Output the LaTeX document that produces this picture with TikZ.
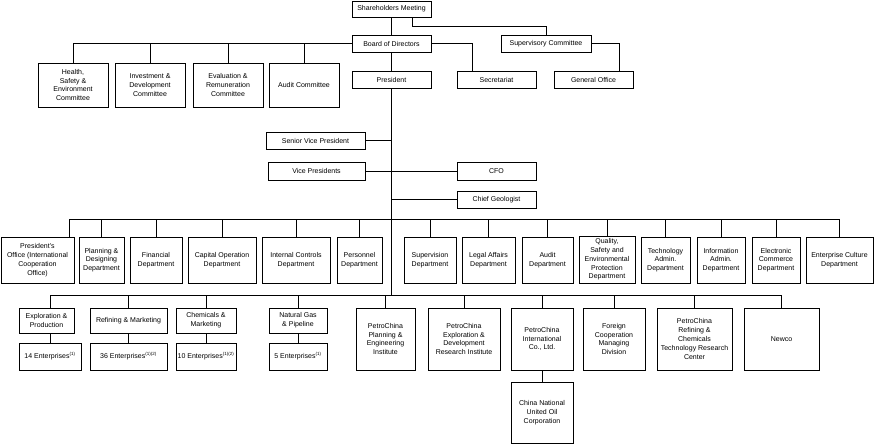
\documentclass[tikz,border=0pt]{standalone}
\usepackage{fontspec}
\setmainfont{Liberation Sans}
\begin{document}
\begin{tikzpicture}[x=1pt,y=-1pt,
  box/.style={draw, line width=0.9pt, inner sep=0pt, align=center,
    font=\fontsize{7}{8.8}\selectfont},
  ln/.style={line width=0.9pt}]
\useasboundingbox (0,0) rectangle (875,445);
\newcommand\bx[6]{\node[box, minimum width={#4-#2}, minimum height={#5-#3}] (#1) at ({(#2+#4)/2},{(#3+#5)/2}) {#6};}
\newcommand\sups[1]{\textsuperscript{\fontsize{4.5}{5}\selectfont #1}}
% top
\bx{sh}{352}{1}{431}{17}{Shareholders Meeting}
\bx{bod}{352}{35}{431}{52}{Board of Directors}
\bx{sup}{501}{35}{591}{52}{Supervisory Committee}
\bx{pres}{352}{71}{431}{88}{President}
\bx{sec}{457}{71}{536}{88}{Secretariat}
\bx{go}{554}{71}{633}{88}{General Office}
\bx{c1}{38}{63}{108}{107}{Health,\\Safety \&\\Environment\\Committee}
\bx{c2}{115}{63}{185}{107}{Investment \&\\Development\\Committee}
\bx{c3}{193}{63}{263}{107}{Evaluation \&\\Remuneration\\Committee}
\bx{c4}{269}{63}{339}{107}{Audit Committee}
% executives
\bx{svp}{266}{132}{365}{149}{Senior Vice President}
\bx{vp}{268}{162}{365}{180}{Vice Presidents}
\bx{cfo}{457}{162}{536}{180}{CFO}
\bx{cg}{457}{191}{536}{208}{Chief Geologist}
% departments
\bx{d1}{1}{237}{74}{283}{President's\\Office (International\\Cooperation\\Office)}
\bx{d2}{79}{237}{124}{283}{Planning \&\\Designing\\Department}
\bx{d3}{130}{237}{182}{283}{Financial\\Department}
\bx{d4}{188}{237}{256}{283}{Capital Operation\\Department}
\bx{d5}{262}{237}{330}{283}{Internal Controls\\Department}
\bx{d6}{337}{237}{382}{283}{Personnel\\Department}
\bx{d7}{404}{237}{456}{283}{Supervision\\Department}
\bx{d8}{462}{237}{515}{283}{Legal Affairs\\Department}
\bx{d9}{522}{237}{573}{283}{Audit\\Department}
\bx{d10}{579}{236}{635}{283}{Quality,\\Safety and\\Environmental\\Protection\\Department}
\bx{d11}{641}{237}{690}{283}{Technology\\Admin.\\Department}
\bx{d12}{697}{237}{745}{283}{Information\\Admin.\\Department}
\bx{d13}{752}{237}{800}{283}{Electronic\\Commerce\\Department}
\bx{d14}{806}{237}{873}{283}{Enterprise Culture\\Department}
% bottom
\bx{b1}{19}{308}{74}{333}{Exploration \&\\Production}
\bx{e1}{19}{343}{81}{370}{14 Enterprises\sups{(1)}}
\bx{b2}{90}{308}{167}{333}{Refining \& Marketing}
\bx{e2}{90}{343}{167}{370}{36 Enterprises\sups{(1)(2)}}
\bx{b3}{176}{308}{236}{333}{Chemicals \&\\Marketing}
\bx{e3}{176}{343}{236}{370}{10 Enterprises\sups{(1)(2)}}
\bx{b4}{269}{308}{327}{333}{Natural Gas\\\& Pipeline}
\bx{e4}{269}{343}{327}{370}{5 Enterprises\sups{(1)}}
\bx{b5}{356}{308}{415}{370}{PetroChina\\Planning \&\\Engineering\\Institute}
\bx{b6}{428}{308}{500}{370}{PetroChina\\Exploration \&\\Development\\Research Institute}
\bx{b7}{511}{308}{573}{370}{PetroChina\\International\\Co., Ltd.}
\bx{b8}{583}{308}{645}{370}{Foreign\\Cooperation\\Managing\\Division}
\bx{b9}{657}{308}{732}{370}{PetroChina\\Refining \&\\Chemicals\\Technology Research\\Center}
\bx{b10}{744}{308}{819}{370}{Newco}
\bx{cnuoc}{511}{382}{573}{443}{China National\\United Oil\\Corporation}
% connectors
\draw[ln] (sh.south) -- (bod.north);
\draw[ln] ([xshift=21pt]sh.south) -- ++(0,9) -| (sup.north);
\foreach \c in {c1,c2,c3,c4} \draw[ln] (bod.west) -| (\c.north);
\draw[ln] (bod.east) -| ([xshift=-24.5pt]sec.north);
\draw[ln] (sup.east) -| ([xshift=25.5pt]go.north);
\draw[ln] (bod.south) -- (pres.north);
\coordinate (spine) at (pres.south |- 0,295);
\draw[ln] (pres.south) -- (spine);
\draw[ln] (svp.east) -- (svp.east -| pres.south);
\draw[ln] (vp.east) -- (cfo.west);
\draw[ln] (cg.west -| pres.south) -- (cg.west);
\coordinate (dbus) at (pres.south |- 0,219);
\draw[ln] ([xshift=31.5pt]d1.north) |- (dbus);
\foreach \d in {d2,d3,d4,d5,d6,d7,d8,d9,d10,d11,d12,d13,d14} \draw[ln] (\d.north) |- (dbus);
\draw[ln] (e1.north |- b1.north) |- (spine);
\draw[ln] (e1.north |- b1.south) -- (e1.north);
\foreach \i in {2,3,4} {
  \draw[ln] (b\i.north) |- (spine);
  \draw[ln] (b\i.south) -- (e\i.north);
}
\foreach \i in {5,6,7,8,9,10} \draw[ln] (b\i.north) |- (spine);
\draw[ln] (b7.south) -- (cnuoc.north);
\end{tikzpicture}
\end{document}
